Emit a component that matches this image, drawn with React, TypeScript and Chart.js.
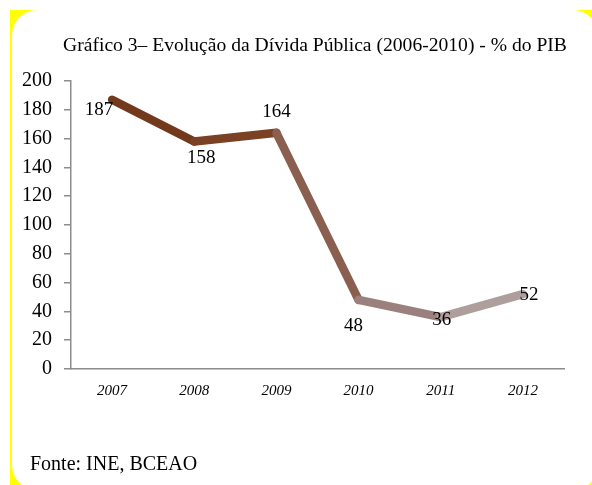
import React, { useEffect, useRef } from "react";
import { Chart, registerables } from "chart.js";

Chart.register(...registerables);

const categories = ["2007", "2008", "2009", "2010", "2011", "2012"];
const debtValues = [187, 158, 164, 48, 36, 52];
const yTickValues = [0, 20, 40, 60, 80, 100, 120, 140, 160, 180, 200];
const segmentColors = ["#73391d", "#7b4124", "#8b5f50", "#9c807d", "#ae9e9c"];
const labelOffsets = [
  [-13, 10],
  [7, 17],
  [0, -21],
  [-5, 26],
  [1, 3],
  [6, 1],
];
const titleText = "Gráfico 3– Evolução da Dívida Pública (2006-2010) - % do PIB";
const sourceText = "Fonte: INE, BCEAO";

const SERIF = '"Liberation Serif", "Times New Roman", serif';

const labelPlugin = {
  id: "valueLabels",
  afterDatasetsDraw(chart: any) {
    const ctx = chart.ctx;
    const meta = chart.getDatasetMeta(0);
    ctx.save();
    ctx.font = `19px ${SERIF}`;
    ctx.fillStyle = "#000";
    ctx.textAlign = "center";
    ctx.textBaseline = "middle";
    meta.data.forEach((pt: any, i: number) => {
      const [dx, dy] = labelOffsets[i];
      ctx.fillText(String(debtValues[i]), pt.x + dx, pt.y + dy);
    });
    ctx.restore();
  },
};

const textPlugin = {
  id: "extraTexts",
  afterDraw(chart: any) {
    const ctx = chart.ctx;
    ctx.save();
    ctx.fillStyle = "#000";
    ctx.font = `19.6px ${SERIF}`;
    ctx.textBaseline = "middle";
    ctx.textAlign = "center";
    ctx.fillText(titleText, 315, 46);
    ctx.font = `20px ${SERIF}`;
    ctx.textAlign = "left";
    ctx.fillText(sourceText, 30, 465);
    ctx.restore();
  },
};

export default function App() {
  const canvasRef = useRef<HTMLCanvasElement | null>(null);

  useEffect(() => {
    if (!canvasRef.current) return;
    const chart = new Chart(canvasRef.current, {
      type: "line",
      data: {
        labels: categories,
        datasets: [
          {
            data: debtValues,
            borderWidth: 8.5,
            borderCapStyle: "round",
            borderJoinStyle: "round",
            pointRadius: 0,
            pointHoverRadius: 0,
            tension: 0,
            fill: false,
            borderColor: segmentColors[0],
            segment: {
              borderColor: (c: any) => segmentColors[c.p0DataIndex],
            },
          } as any,
        ],
      },
      options: {
        animation: false,
        responsive: false,
        events: [],
        layout: { padding: { left: 0, top: 81, right: 28, bottom: 86 } },
        plugins: {
          legend: { display: false },
          title: { display: false },
          tooltip: { enabled: false },
        },
        scales: {
          x: {
            offset: true,
            grid: { display: false, drawTicks: false },
            border: { display: true, color: "#8c8c8c", width: 1.5 },
            ticks: {
              padding: 13,
              color: "#000",
              font: { family: SERIF, size: 15, style: "italic" },
              maxRotation: 0,
            },
            afterFit: (s: any) => {
              s.height = 30;
            },
          },
          y: {
            min: 0,
            max: 200,
            afterBuildTicks: (s: any) => {
              s.ticks = yTickValues.map((v) => ({ value: v }));
            },
            grid: {
              display: true,
              drawOnChartArea: false,
              drawTicks: true,
              tickLength: 7,
              color: "#8c8c8c",
              lineWidth: 1.5,
            },
            border: { display: true, color: "#8c8c8c", width: 1.5 },
            ticks: {
              padding: 12,
              color: "#000",
              font: { family: SERIF, size: 20 },
            },
            afterFit: (s: any) => {
              s.width = 71;
            },
          },
        },
      },
      plugins: [labelPlugin, textPlugin],
    });
    return () => chart.destroy();
  }, []);

  return (
    <div
      style={{
        position: "fixed",
        left: 0,
        top: 0,
        width: 592,
        height: 485,
        overflow: "hidden",
        background: "#fff",
      }}
    >
      <div
        style={{
          position: "absolute",
          left: 10,
          top: 10,
          width: 600,
          height: 500,
          background: "#ffff00",
        }}
      />
      <div
        style={{
          position: "absolute",
          left: 12,
          top: 10,
          width: 586,
          height: 480,
          background: "#fff",
          borderRadius: 25,
        }}
      />
      <canvas
        ref={canvasRef}
        width={592}
        height={485}
        style={{ position: "absolute", left: 0, top: 0, width: 592, height: 485 }}
      />
    </div>
  );
}
